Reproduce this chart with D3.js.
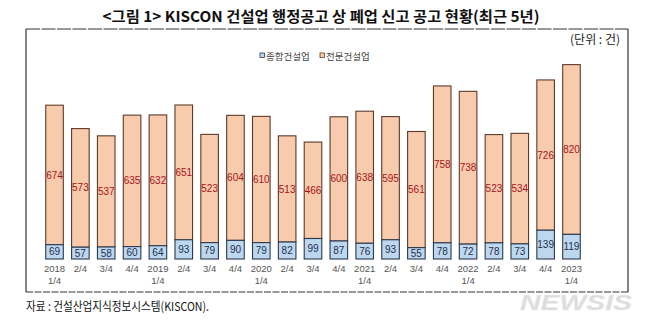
<!DOCTYPE html>
<html><head><meta charset="utf-8">
<script src="https://cdn.jsdelivr.net/npm/d3@7"></script>
<style>
html,body{margin:0;padding:0;background:#fff;}
svg{display:block;}
</style></head>
<body>
<svg id="chart" width="658" height="327"></svg>
<script>
const yearLabels = ["2018","2/4","3/4","4/4","2019","2/4","3/4","4/4","2020","2/4","3/4","4/4","2021","2/4","3/4","4/4","2022","2/4","3/4","4/4","2023"];
const subLabels  = ["1/4","","","","1/4","","","","1/4","","","","1/4","","","","1/4","","","","1/4"];
const general   = [69,57,58,60,64,93,79,90,79,82,99,87,76,93,55,78,72,78,73,139,119];
const specialty = [674,573,537,635,632,651,523,604,610,513,466,600,638,595,561,758,738,523,534,726,820];
const seriesNames = ["종합건설업","전문건설업"];
const titleText = "<그림 1> KISCON 건설업 행정공고 상 폐업 신고 공고 현황(최근 5년)";
const unitText = "(단위 : 건)";
const sourceText = "자료 : 건설산업지식정보시스템(KISCON).";

const svg = d3.select("#chart");
const KR = "'Noto Sans CJK KR','Noto Sans',sans-serif";
const NUM = "'Liberation Sans',Arial,sans-serif";

// frame
const fx0=26, fy0=29, fx1=628, fy1=292;
const frame = svg.append("g").attr("stroke","#333").attr("stroke-width",1.2).attr("fill","none");
frame.append("line").attr("x1",fx0).attr("y1",fy0).attr("x2",fx1).attr("y2",fy0).attr("stroke-dasharray","14,1.5");
frame.append("line").attr("x1",fx0).attr("y1",fy1).attr("x2",fx1).attr("y2",fy1).attr("stroke-dasharray","7,1.5");
frame.append("line").attr("x1",fx0).attr("y1",fy0).attr("x2",fx0).attr("y2",fy1);
frame.append("line").attr("x1",fx1).attr("y1",fy0).attr("x2",fx1).attr("y2",fy1);

// title
svg.append("text").attr("x",321).attr("y",22).attr("text-anchor","middle")
  .attr("font-family",KR).attr("font-weight","bold").attr("font-size",15).attr("fill","#111")
  .attr("textLength",437).attr("lengthAdjust","spacingAndGlyphs").text(titleText);

// unit
svg.append("text").attr("x",620).attr("y",44).attr("text-anchor","end")
  .attr("font-family",KR).attr("font-size",12).attr("fill","#222").text(unitText);

const idx = d3.range(yearLabels.length);
const x = d3.scaleBand().domain(idx).range([41.6,584.4]).paddingInner(0.32).paddingOuter(0.16);
const y = d3.scaleLinear().domain([0,1000]).range([259,52]);

const g = svg.append("g");
// specialty (stacked on top)
g.selectAll("rect.sp").data(idx).join("rect").attr("class","sp")
  .attr("x",i=>x(i)).attr("width",x.bandwidth())
  .attr("y",i=>y(general[i]+specialty[i]))
  .attr("height",i=>y(general[i])-y(general[i]+specialty[i]))
  .attr("fill","#F8CBAD").attr("stroke","#5b3b2c").attr("stroke-width",1.1);
// general
g.selectAll("rect.ge").data(idx).join("rect").attr("class","ge")
  .attr("x",i=>x(i)).attr("width",x.bandwidth())
  .attr("y",i=>y(general[i]))
  .attr("height",i=>y(0)-y(general[i]))
  .attr("fill","#BDD7EE").attr("stroke","#2a3a52").attr("stroke-width",1.1);

// labels
g.selectAll("text.spl").data(idx).join("text").attr("class","spl")
  .attr("x",i=>x(i)+x.bandwidth()/2)
  .attr("y",i=>(y(general[i])+y(general[i]+specialty[i]))/2+3.6)
  .attr("text-anchor","middle").attr("font-family",NUM).attr("font-size",10)
  .attr("fill","#A8121A").text(i=>specialty[i]);
g.selectAll("text.gel").data(idx).join("text").attr("class","gel")
  .attr("x",i=>x(i)+x.bandwidth()/2)
  .attr("y",i=>(y(0)+y(general[i]))/2+3.6)
  .attr("text-anchor","middle").attr("font-family",NUM).attr("font-size",10)
  .attr("fill","#1F3050").text(i=>general[i]);

// x axis labels
const ax = svg.append("g");
ax.selectAll("text.t1").data(idx).join("text").attr("class","t1")
  .attr("x",i=>x(i)+x.bandwidth()/2).attr("y",272)
  .attr("text-anchor","middle").attr("font-family",NUM).attr("font-size",9.5)
  .attr("fill","#555").text(i=>yearLabels[i]);
ax.selectAll("text.t2").data(idx.filter(i=>subLabels[i])).join("text").attr("class","t2")
  .attr("x",i=>x(i)+x.bandwidth()/2).attr("y",284)
  .attr("text-anchor","middle").attr("font-family",NUM).attr("font-size",9.5)
  .attr("fill","#555").text(i=>subLabels[i]);

// legend
const legendX = [260, 320];
const legColors = [["#BDD7EE","#2a3a52"],["#F8CBAD","#5b3b2c"]];
const leg = svg.append("g");
seriesNames.forEach((n,k)=>{
  leg.append("rect").attr("x",legendX[k]).attr("y",53).attr("width",4.5).attr("height",4.5)
    .attr("fill",legColors[k][0]).attr("stroke",legColors[k][1]).attr("stroke-width",0.8);
  leg.append("text").attr("x",legendX[k]+6).attr("y",59.5)
    .attr("font-family",KR).attr("font-size",9.5).attr("fill","#444").text(n);
});

// source
svg.append("text").attr("x",26).attr("y",311)
  .attr("font-family",KR).attr("font-size",12).attr("fill","#111")
  .attr("textLength",183).attr("lengthAdjust","spacingAndGlyphs").text(sourceText);

// watermark
svg.append("text").attr("x",520).attr("y",310)
  .attr("font-family",NUM).attr("font-weight","bold").attr("font-style","italic")
  .attr("font-size",22).attr("fill","#dcdcdc").attr("stroke","#eeeeee").attr("stroke-width",0.5)
  .attr("textLength",112).attr("lengthAdjust","spacingAndGlyphs").text("NEWSIS");
</script>
</body></html>
